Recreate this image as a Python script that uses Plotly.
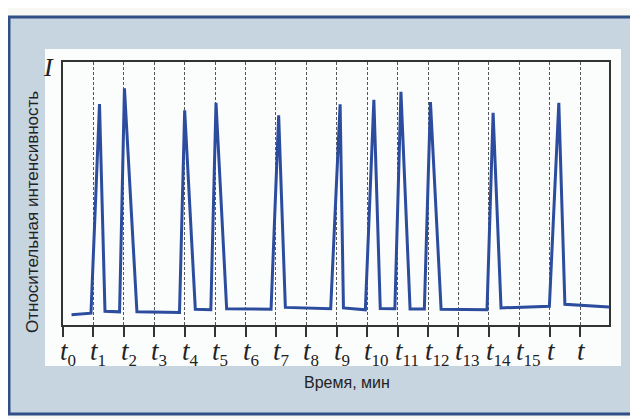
import plotly.graph_objects as go

# Data
time_points = [0.28, 0.92, 1.2, 1.38, 1.86, 2.02, 2.43, 3.83, 4.0, 4.35, 4.86, 5.03, 5.38,
               6.84, 7.09, 7.31, 8.8, 9.11, 9.22, 9.94, 10.22, 10.43, 10.91, 11.11, 11.41,
               11.88, 12.08, 12.43, 13.94, 14.14, 14.4, 15.99, 16.3, 16.5, 17.95]
intensity = [0.039, 0.045, 0.84, 0.052, 0.05, 0.90, 0.05, 0.048, 0.816, 0.06, 0.058, 0.845,
             0.062, 0.06, 0.797, 0.067, 0.062, 0.839, 0.065, 0.058, 0.856, 0.063, 0.062,
             0.887, 0.061, 0.061, 0.848, 0.06, 0.058, 0.807, 0.065, 0.071, 0.845, 0.079, 0.068]
tick_values = list(range(18))
tick_subscripts = [str(i) for i in range(16)] + ["", ""]

fig = go.Figure()
fig.add_trace(go.Scatter(x=time_points, y=intensity, mode="lines",
                         line=dict(color="#2c4c9e", width=3), showlegend=False,
                         hoverinfo="skip"))

# page body has an 8px margin, so the figure is drawn 8px smaller
L, R, T, B = 55, 29, 54, 94
W, H = 630, 411
pw, ph = W - L - R, H - T - B

def px(x):  # reference-picture x -> paper
    return (x - 63) / pw

def py(y):  # reference-picture y -> paper
    return (325 - y) / ph

shapes = [
    dict(type="rect", xref="paper", yref="paper", layer="below",
         x0=px(9), x1=px(645), y0=py(414), y1=py(17),
         fillcolor="#c7d5e0", line=dict(color="#2f4f86", width=3)),
    dict(type="rect", xref="paper", yref="paper", layer="below",
         x0=px(45), x1=px(621), y0=py(366), y1=py(49),
         fillcolor="#fbfcfc", line=dict(width=0)),
]

serif = "Liberation Serif, Times New Roman, serif"
narrow = "Liberation Sans Narrow, Arial Narrow, Liberation Sans, sans-serif"

annotations = [
    dict(text="<i>I</i>", xref="paper", yref="paper", x=px(48), y=py(68),
         showarrow=False, xanchor="center", yanchor="middle",
         font=dict(family=serif, size=26, color="#222")),
    dict(text="Относительная интенсивность", xref="paper", yref="paper",
         x=px(32), y=py(212), textangle=-90, showarrow=False,
         xanchor="center", yanchor="middle",
         font=dict(family=narrow, size=17, color="#222")),
    dict(text="Время, мин", xref="paper", yref="paper",
         x=px(347), y=py(382), showarrow=False,
         xanchor="center", yanchor="middle",
         font=dict(family=narrow, size=16, color="#222")),
]
for v, s in zip(tick_values, tick_subscripts):
    txt = "<i>t</i>"
    if s:
        txt += "<sub><span style='font-size:17px'>%s</span></sub>" % s
    annotations.append(dict(text=txt, xref="x", yref="paper", x=v, y=py(334),
                            showarrow=False, xanchor="left", yanchor="top", xshift=-5,
                            font=dict(family=serif, size=27, color="#222")))

fig.update_layout(
    width=W, height=H,
    margin=dict(l=L, r=R, t=T, b=B, autoexpand=False),
    paper_bgcolor="#f7f7f4",
    plot_bgcolor="#fbfcfc",
    shapes=shapes,
    xaxis=dict(range=[0, 17.95], tickvals=tick_values, showticklabels=False,
               ticks="outside", ticklen=10, tickwidth=1.5, tickcolor="#333",
               showline=True, mirror=True, linecolor="#333", linewidth=1.5,
               showgrid=True, gridcolor="#555", gridwidth=1, griddash="3px,2px",
               zeroline=False, automargin=False),
    yaxis=dict(range=[0, 1], showticklabels=False, ticks="", showgrid=False,
               showline=True, mirror=True, linecolor="#333", linewidth=1.5,
               zeroline=False, automargin=False),
    annotations=annotations,
)

fig.write_html("out.html")
